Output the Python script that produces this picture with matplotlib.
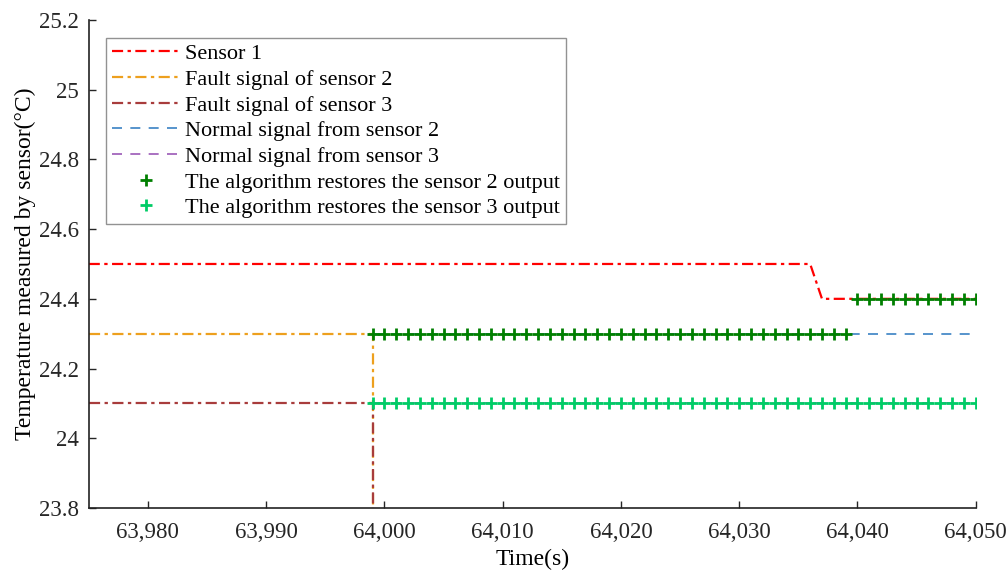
import matplotlib
matplotlib.use("Agg")
import matplotlib.pyplot as plt
from matplotlib.ticker import FuncFormatter

plt.rcParams["font.family"] = ["Liberation Serif", "DejaVu Serif"]

# sensor 1
s1_t = [63975, 64036, 64037, 64050]
s1_v = [24.5, 24.5, 24.4, 24.4]
# fault signals (drop out of range at 63999)
f2_t = [63975, 63999, 63999]
f2_v = [24.3, 24.3, 23.0]
f3_t = [63975, 63999, 63999]
f3_v = [24.1, 24.1, 23.0]
# normal signals
n2_t = [63999, 64050]
n2_v = [24.3, 24.3]
n3_t = [63999, 64050]
n3_v = [24.1, 24.1]
# restored outputs
r2_t = list(range(63999, 64040)) + list(range(64040, 64051))
r2_v = [24.3] * 41 + [24.4] * 11
r3_t = list(range(63999, 64051))
r3_v = [24.1] * 52

fig = plt.figure(figsize=(10.08, 5.72), dpi=100)
ax = fig.add_axes([0.088, 0.112, 0.88, 0.853])

dashdot = (0, (5, 2, 1.5, 2))
ax.plot(s1_t, s1_v, color="#FF0000", ls=dashdot, lw=1.6, label="Sensor 1")
ax.plot(f2_t, f2_v, color="#EDA01E", ls=dashdot, lw=1.6, label="Fault signal of sensor 2")
ax.plot(f3_t, f3_v, color="#A83C3C", ls=dashdot, lw=1.6, label="Fault signal of sensor 3")
ax.plot(n2_t, n2_v, color="#3A82C4", ls=(0, (6, 5)), lw=1.2, label="Normal signal from sensor 2")
ax.plot(n3_t, n3_v, color="#9B59B6", ls=(0, (6, 5)), lw=1.2, label="Normal signal from sensor 3")
ax.plot(r2_t, r2_v, ls="none", marker="+", ms=8, mew=2, color="#007F00",
        label="The algorithm restores the sensor 2 output")
ax.plot(r3_t, r3_v, ls="none", marker="+", ms=8, mew=2, color="#00CC66",
        label="The algorithm restores the sensor 3 output")

ax.set_xlim(63975, 64050)
ax.set_ylim(23.8, 25.2)
ax.set_xticks([63980, 63990, 64000, 64010, 64020, 64030, 64040, 64050])
ax.set_yticks([23.8, 24, 24.2, 24.4, 24.6, 24.8, 25, 25.2])
ax.xaxis.set_major_formatter(FuncFormatter(lambda v, p: f"{v:,.0f}"))
ax.yaxis.set_major_formatter(FuncFormatter(lambda v, p: f"{v:g}"))
ax.tick_params(direction="in", labelsize=16.5, length=5, width=1, colors="#262626")
ax.tick_params(axis="x", pad=10)
ax.tick_params(axis="y", pad=7)
for s in ["top", "right"]:
    ax.spines[s].set_visible(False)
for s in ["left", "bottom"]:
    ax.spines[s].set_linewidth(1.2)
    ax.spines[s].set_color("#222222")

ax.set_xlabel("Time(s)", fontsize=17, labelpad=4)
ax.set_ylabel("Temperature measured by sensor(°C)", fontsize=17, labelpad=2)

leg = ax.legend(loc="upper left", bbox_to_anchor=(0.02, 0.963), fontsize=16,
                frameon=True, fancybox=False, edgecolor="#777777",
                handlelength=3.1, handletextpad=0.2, labelspacing=0.23,
                borderpad=0.25, borderaxespad=0)
leg.get_frame().set_linewidth(1.0)

fig.savefig("out.png", dpi=100)
